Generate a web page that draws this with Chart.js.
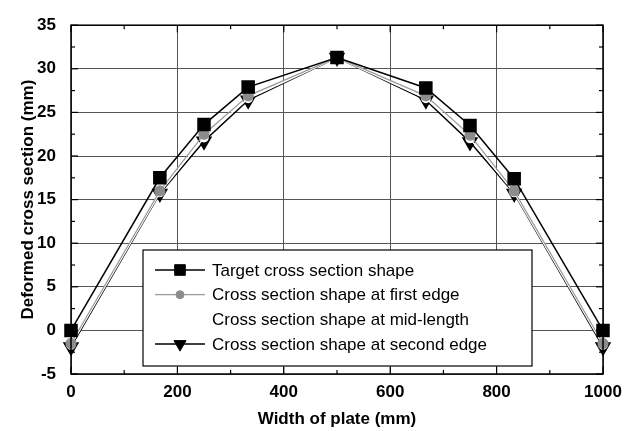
<!DOCTYPE html>
<html>
<head>
<meta charset="utf-8">
<script src="https://cdn.jsdelivr.net/npm/chart.js@4/dist/chart.umd.min.js"></script>
<style>
  html, body { margin: 0; padding: 0; background: #fff; }
  #wrap { width: 634px; height: 431px; }
</style>
</head>
<body>
<div id="wrap"><canvas id="c" width="634" height="431"></canvas></div>
<script>
// Deformed cross section along the plate width, four shapes.

const widths = [0, 167, 250, 333, 500, 667, 750, 833, 1000];
const targetShape = [0, 17.5, 23.6, 27.9, 31.3, 27.8, 23.5, 17.4, 0];
const firstEdge = [-1.5, 16.0, 22.5, 26.9, 31.3, 26.9, 22.4, 16.0, -1.5];
const midLength = [-1.7, 15.8, 22.1, 26.6, 31.3, 26.6, 22.0, 15.8, -1.7];
const secondEdge = [-1.9, 15.7, 21.7, 26.4, 31.3, 26.4, 21.6, 15.7, -1.9];

const seriesLabels = ["Target cross section shape", "Cross section shape at first edge",
                      "Cross section shape at mid-length", "Cross section shape at second edge"];

const FONT = "'Liberation Sans', Arial, sans-serif";

function toPoints(ys) {
  return widths.map(function (x, i) { return { x: x, y: ys[i] }; });
}

// frame, inward ticks and the boxed legend inside the plot
const framePlugin = {
  id: "frame",
  afterDatasetsDraw: function (chart) {
    const ctx = chart.ctx;
    const a = chart.chartArea;
    const xs = chart.scales.x, ys = chart.scales.y;
    ctx.save();
    ctx.strokeStyle = "#000";
    ctx.lineWidth = 1.5;
    ctx.strokeRect(a.left, a.top, a.right - a.left, a.bottom - a.top);

    ctx.lineWidth = 1.2;
    for (let v = 0; v <= 1000; v += 100) {
      const px = xs.getPixelForValue(v);
      const len = v % 200 === 0 ? 7 : 4;
      ctx.beginPath(); ctx.moveTo(px, a.bottom); ctx.lineTo(px, a.bottom - len); ctx.stroke();
      ctx.beginPath(); ctx.moveTo(px, a.top); ctx.lineTo(px, a.top + len); ctx.stroke();
    }
    for (let v = -5; v <= 35; v += 2.5) {
      const py = ys.getPixelForValue(v);
      const len = v % 5 === 0 ? 7 : 4;
      ctx.beginPath(); ctx.moveTo(a.left, py); ctx.lineTo(a.left + len, py); ctx.stroke();
      ctx.beginPath(); ctx.moveTo(a.right, py); ctx.lineTo(a.right - len, py); ctx.stroke();
    }

    // legend box
    const bx = 143, by = 250, bw = 389, bh = 116;
    ctx.fillStyle = "#fff";
    ctx.fillRect(bx, by, bw, bh);
    ctx.lineWidth = 1.2;
    ctx.strokeRect(bx, by, bw, bh);

    ctx.font = "17px " + FONT;
    ctx.textBaseline = "middle";
    chart.data.datasets.forEach(function (ds, i) {
      const cy = by + 20 + i * 24.7;
      ctx.strokeStyle = ds.borderColor;
      ctx.lineWidth = ds.borderWidth;
      ctx.beginPath(); ctx.moveTo(bx + 12, cy); ctx.lineTo(bx + 62, cy); ctx.stroke();
      ctx.fillStyle = ds.pointBackgroundColor;
      ctx.strokeStyle = ds.pointBorderColor;
      ctx.lineWidth = 1;
      Chart.helpers.drawPoint(ctx, {
        pointStyle: ds.pointStyle, rotation: ds.pointRotation || 0,
        radius: ds.pointRadius - 1, borderWidth: 1
      }, bx + 37, cy);
      ctx.fillStyle = "#000";
      ctx.fillText(ds.label, bx + 69, cy + 1);
    });
    ctx.restore();
  }
};

const tickFont = { family: FONT, size: 17, weight: "bold" };

new Chart(document.getElementById("c"), {
  type: "line",
  data: {
    datasets: [
      { label: seriesLabels[0], data: toPoints(targetShape), borderColor: "#000", borderWidth: 1.5,
        pointStyle: "rect", pointRadius: 8.5, pointBackgroundColor: "#000", pointBorderColor: "#000" },
      { label: seriesLabels[1], data: toPoints(firstEdge), borderColor: "#9a9a9a", borderWidth: 1.2,
        pointStyle: "circle", pointRadius: 5, pointBackgroundColor: "#8c8c8c", pointBorderColor: "#8c8c8c" },
      { label: seriesLabels[2], data: toPoints(midLength), borderColor: "#fff", borderWidth: 1.5,
        pointStyle: "circle", pointRadius: 4, pointBackgroundColor: "#fff", pointBorderColor: "#fff" },
      { label: seriesLabels[3], data: toPoints(secondEdge), borderColor: "#000", borderWidth: 1.5,
        pointStyle: "triangle", pointRotation: 180, pointRadius: 8,
        pointBackgroundColor: "#000", pointBorderColor: "#000" }
    ]
  },
  options: {
    responsive: false,
    animation: false,
    clip: false,
    layout: { padding: { top: 22, right: 31, left: 0, bottom: 0 } },
    plugins: { legend: { display: false }, tooltip: { enabled: false } },
    scales: {
      x: {
        type: "linear", min: 0, max: 1000,
        ticks: { stepSize: 200, color: "#000", padding: 8, font: tickFont,
                 callback: function (v) { return String(v); } },
        grid: { color: "#555", lineWidth: 1, drawTicks: false },
        border: { display: false },
        title: { display: true, text: "Width of plate (mm)", color: "#000",
                 font: tickFont, padding: { top: 12, bottom: 1 } },
        afterFit: function (s) { s.height = 57; }
      },
      y: {
        min: -5, max: 35,
        ticks: { stepSize: 5, color: "#000", padding: 15, font: tickFont },
        grid: { color: "#555", lineWidth: 1, drawTicks: false },
        border: { display: false },
        title: { display: true, text: "Deformed cross section (mm)", color: "#000",
                 font: tickFont, padding: { top: 18, bottom: 0 } },
        afterFit: function (s) { s.width = 71; }
      }
    }
  },
  plugins: [framePlugin]
});
</script>
</body>
</html>
